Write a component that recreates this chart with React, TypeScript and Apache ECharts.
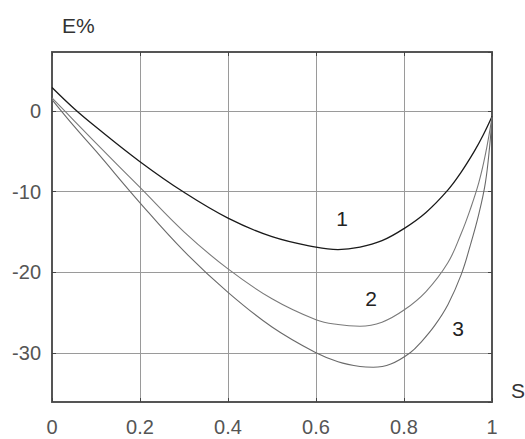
import React, { useEffect, useRef } from "react";
import * as echarts from "echarts";

// Curve 1 (black)
const c1X = [0, 0.05, 0.1, 0.2, 0.3, 0.4, 0.5, 0.6, 0.65, 0.7, 0.75, 0.8, 0.85, 0.9, 0.93, 0.96, 0.98, 1];
const c1Y = [2.9, 0.3, -2.0, -6.3, -10.1, -13.3, -15.6, -16.9, -17.2, -16.9, -16.1, -14.6, -12.6, -9.8, -7.6, -5.0, -3.0, -0.7];
// Curve 2 (gray)
const c2X = [0, 0.05, 0.1, 0.2, 0.3, 0.4, 0.5, 0.6, 0.65, 0.7, 0.75, 0.8, 0.85, 0.9, 0.93, 0.95, 0.97, 0.985, 1];
const c2Y = [1.6, -1.2, -4.0, -9.5, -15.0, -19.6, -23.3, -25.9, -26.5, -26.7, -26.2, -24.7, -22.4, -18.8, -15.2, -12.3, -8.9, -5.4, -0.8];
// Curve 3 (gray)
const c3X = [0, 0.05, 0.1, 0.2, 0.3, 0.4, 0.5, 0.6, 0.65, 0.7, 0.73, 0.77, 0.814, 0.84, 0.87, 0.9, 0.93, 0.95, 0.97, 0.985, 0.995, 1];
const c3Y = [1.4, -1.9, -5.0, -11.4, -17.4, -22.5, -26.8, -30.0, -31.1, -31.7, -31.8, -31.4, -30.0, -28.6, -26.6, -24.0, -20.3, -16.8, -12.8, -8.9, -4.2, -0.8];

const curveNames = ["1", "2", "3"];
const xTickLabels = ["0", "0.2", "0.4", "0.6", "0.8", "1"];
const yAxisTitle = "E%";
const xAxisTitle = "S";

const pairs = (xs: number[], ys: number[]) => xs.map((x, i) => [x, ys[i]]);

export default function App() {
  const ref = useRef<HTMLDivElement>(null);
  useEffect(() => {
    document.body.style.margin = "0";
    const chart = echarts.init(ref.current!, null, { renderer: "svg" });
    const font = "'Liberation Sans', Arial, sans-serif";
    const frame = { show: true, onZero: false, lineStyle: { color: "#555", width: 2 } };
    const tick = { show: true, inside: true, length: 4, lineStyle: { color: "#444", width: 1 } };
    const xFmt = (v: number) => {
      const i = Math.round(v / 0.2);
      return Math.abs(v - i * 0.2) < 1e-6 ? xTickLabels[i] ?? "" : "";
    };
    const lineCommon = { type: "line", smooth: 0.4, showSymbol: false };
    chart.setOption({
      animation: false,
      backgroundColor: "#fff",
      grid: { left: 52, right: 33, top: 52, bottom: 37 },
      xAxis: [
        {
          type: "value", min: 0, max: 1, interval: 0.2, position: "bottom",
          axisLine: frame, axisTick: tick,
          axisLabel: { margin: 15, fontSize: 20, color: "#555", fontFamily: font, formatter: xFmt },
          splitLine: { show: true, lineStyle: { color: "#9a9a9a", width: 1 } },
        },
        {
          type: "value", min: 0, max: 1, interval: 0.2, position: "top",
          axisLine: frame, axisTick: tick, axisLabel: { show: false }, splitLine: { show: false },
        },
      ],
      yAxis: [
        {
          type: "value", min: -36.1, max: 7.3, splitNumber: 5, position: "left",
          axisLine: frame, axisTick: tick,
          axisLabel: {
            margin: 11, fontSize: 20, color: "#555", fontFamily: font,
            showMinLabel: false, showMaxLabel: false,
            formatter: (v: number) => (Math.abs(v % 10) < 1e-6 ? String(v) : ""),
          },
          splitLine: { show: true, lineStyle: { color: "#9a9a9a", width: 1 } },
        },
        {
          type: "value", min: -36.1, max: 7.3, splitNumber: 5, position: "right",
          axisLine: frame, axisTick: tick, axisLabel: { show: false }, splitLine: { show: false },
        },
      ],
      series: [
        { ...lineCommon, name: curveNames[0], data: pairs(c1X, c1Y), lineStyle: { color: "#1a1a1a", width: 1.3 } },
        { ...lineCommon, name: curveNames[1], data: pairs(c2X, c2Y), lineStyle: { color: "#7a7a7a", width: 1.1 } },
        { ...lineCommon, name: curveNames[2], data: pairs(c3X, c3Y), lineStyle: { color: "#6a6a6a", width: 1.1 } },
      ],
      graphic: [
        { type: "text", x: 62, y: 25, style: { text: yAxisTitle, font: `21px ${font}`, fill: "#333", verticalAlign: "middle" } },
        { type: "text", x: 511, y: 390, style: { text: xAxisTitle, font: `21px ${font}`, fill: "#333", verticalAlign: "middle" } },
        { type: "text", x: 342, y: 218, style: { text: curveNames[0], font: `21px ${font}`, fill: "#222", align: "center", verticalAlign: "middle" } },
        { type: "text", x: 371, y: 298, style: { text: curveNames[1], font: `21px ${font}`, fill: "#222", align: "center", verticalAlign: "middle" } },
        { type: "text", x: 458, y: 328, style: { text: curveNames[2], font: `21px ${font}`, fill: "#222", align: "center", verticalAlign: "middle" } },
      ],
    });
    return () => chart.dispose();
  }, []);
  return <div ref={ref} style={{ position: "absolute", left: 0, top: 0, width: 525, height: 439 }} />;
}
